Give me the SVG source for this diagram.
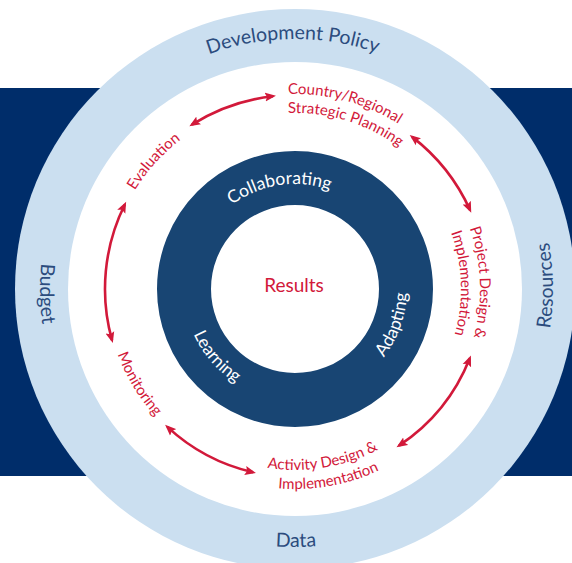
<svg xmlns="http://www.w3.org/2000/svg" width="572" height="563" viewBox="0 0 572 563">
<style>
.band{font-family:"Lato","Liberation Sans",sans-serif;font-size:19.5px;fill:#2b4c7e}
.ring{font-family:"Lato","Liberation Sans",sans-serif;font-size:17.5px;fill:#ffffff}
.step{font-family:"Lato","Liberation Sans",sans-serif;font-size:15px;fill:#d2193a}
.res{font-family:"Lato","Liberation Sans",sans-serif;font-size:19px;fill:#d2193a}
.arrow{fill:none;stroke:#d2193a;stroke-width:2.6;marker-start:url(#ah);marker-end:url(#ah)}
</style>
<defs>
<marker id="ah" markerUnits="userSpaceOnUse" markerWidth="12" markerHeight="10" refX="8" refY="5" orient="auto-start-reverse" viewBox="0 0 12 10">
<path d="M0,0.5 L11,5 L0,9.5 L2,5 z" fill="#d2193a"/>
</marker>
<path id="pDev" d="M77.4,165.9 A250,250 0 0 1 510.4,162.1"/>
<path id="pBud" d="M163.3,70.6 A255,255 0 0 0 171.8,512.3"/>
<path id="pRes" d="M427.1,510.6 A258,258 0 0 0 420.9,63.8"/>
<path id="pData" d="M72,418.8 A258,258 0 0 0 518.9,417.2"/>
<path id="pCol" d="M205.3,234.5 A105,105 0 0 1 364.3,210.1"/>
<path id="pAda" d="M333.7,394.1 A112,112 0 0 0 391.8,232.7"/>
<path id="pLea" d="M185.4,271.3 A111,111 0 0 0 296.6,400"/>
<path id="pEva" d="M108.8,314.8 A188,188 0 0 1 301.9,101.1"/>
<path id="pCo1" d="M183.1,129.3 A195,195 0 0 1 471.7,206.6"/>
<path id="pCo2" d="M199.1,141.4 A176,176 0 0 1 457,220.2"/>
<path id="pPr1" d="M408.9,143.2 A185,185 0 0 1 418.8,426.5"/>
<path id="pPr2" d="M397.2,158.2 A166,166 0 0 1 406.1,412.4"/>
<path id="pAc1" d="M177,426.2 A181,181 0 0 0 450.6,381.4"/>
<path id="pAc2" d="M166.4,442.2 A200,200 0 0 0 468.2,389"/>
<path id="pMon" d="M116,228.4 A189,189 0 0 0 266.4,475.8"/>
</defs>
<rect x="0" y="0" width="572" height="563" fill="#ffffff"/>
<rect x="0" y="88" width="572" height="388" fill="#002d6a"/>
<circle cx="295" cy="289" r="280" fill="#cbdff0"/>
<circle cx="295" cy="289" r="227" fill="#ffffff"/>
<circle cx="295" cy="289" r="111" fill="none" stroke="#184573" stroke-width="54"/>

<g id="development-policy"><text class="band"><textPath href="#pDev" startOffset="50%" text-anchor="middle">Development Policy</textPath></text></g>
<g id="budget"><text class="band"><textPath href="#pBud" startOffset="50%" text-anchor="middle">Budget</textPath></text></g>
<g id="resources"><text class="band"><textPath href="#pRes" startOffset="50%" text-anchor="middle">Resources</textPath></text></g>
<g id="data"><text class="band"><textPath href="#pData" startOffset="50%" text-anchor="middle">Data</textPath></text></g>

<g id="collaborating"><text class="ring"><textPath href="#pCol" startOffset="50%" text-anchor="middle">Collaborating</textPath></text></g>
<g id="adapting"><text class="ring"><textPath href="#pAda" startOffset="50%" text-anchor="middle">Adapting</textPath></text></g>
<g id="learning"><text class="ring"><textPath href="#pLea" startOffset="50%" text-anchor="middle">Learning</textPath></text></g>
<g id="results"><text class="res" x="294" y="292" text-anchor="middle">Results</text></g>

<g id="evaluation"><text class="step"><textPath href="#pEva" startOffset="50%" text-anchor="middle">Evaluation</textPath></text></g>
<g id="country-planning"><text class="step"><textPath href="#pCo1" startOffset="50%" text-anchor="middle">Country/Regional</textPath></text><text class="step"><textPath href="#pCo2" startOffset="50%" text-anchor="middle">Strategic Planning</textPath></text></g>
<g id="project-design"><text class="step"><textPath href="#pPr1" startOffset="50%" text-anchor="middle">Project Design &amp;</textPath></text><text class="step"><textPath href="#pPr2" startOffset="50%" text-anchor="middle">Implementation</textPath></text></g>
<g id="activity-design"><text class="step"><textPath href="#pAc1" startOffset="50%" text-anchor="middle">Activity Design &amp;</textPath></text><text class="step"><textPath href="#pAc2" startOffset="50%" text-anchor="middle">Implementation</textPath></text></g>
<g id="monitoring"><text class="step"><textPath href="#pMon" startOffset="50%" text-anchor="middle">Monitoring</textPath></text></g>

<g id="connectors">
<path class="arrow" d="M191.9,124.7 A194,194 0 0 1 273,96.2"/>
<path class="arrow" d="M412.1,136.9 A192,192 0 0 1 470,210"/>
<path class="arrow" d="M469.8,358.2 A188,188 0 0 1 399,445.6"/>
<path class="arrow" d="M253,472.3 A188,188 0 0 1 167.3,426.9"/>
<path class="arrow" d="M112,340.1 A190,190 0 0 1 124.8,204.5"/>
</g>
</svg>
